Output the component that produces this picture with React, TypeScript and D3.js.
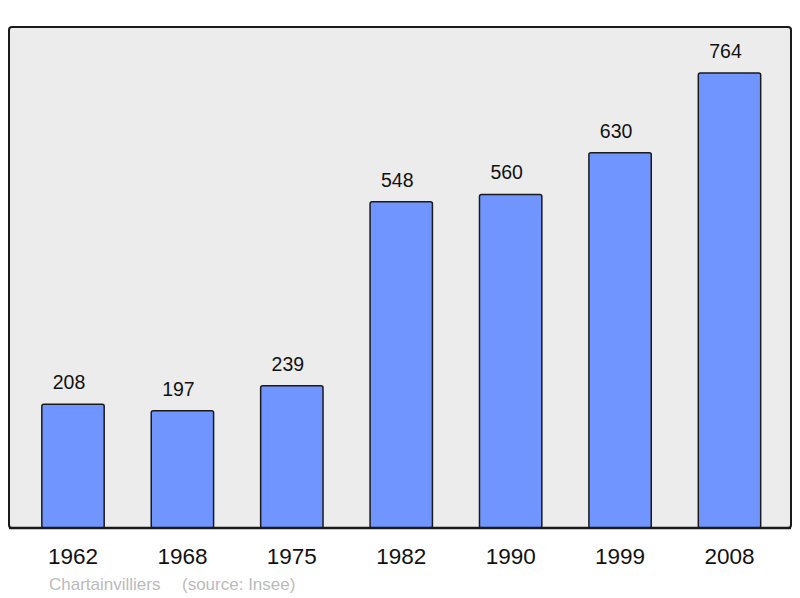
import React from 'react';
import * as d3 from 'd3';

const years = ['1962', '1968', '1975', '1982', '1990', '1999', '2008'];
const population = [208, 197, 239, 548, 560, 630, 764];
const place = 'Chartainvilliers';
const source = '(source: Insee)';

const width = 800;
const height = 598;
const panel = { left: 9, top: 27, right: 791, bottom: 528 };

export default function App() {
  const x = d3
    .scaleBand<string>()
    .domain(years)
    .range([18.3, 784.2])
    .paddingInner(0.43)
    .paddingOuter(0.215);

  const y = d3.scaleLinear().domain([0, 764]).range([panel.bottom, 73]);

  return (
    <svg
      width={width}
      height={height}
      style={{ position: 'absolute', left: 0, top: 0 }}
      fontFamily="'Liberation Sans', Arial, sans-serif"
    >
      <rect
        x={panel.left}
        y={panel.top}
        width={panel.right - panel.left}
        height={panel.bottom - panel.top}
        rx={3}
        fill="#ececec"
        stroke="#1a1a1a"
        strokeWidth={2}
      />
      {years.map((yr, i) => (
        <g key={yr}>
          <rect
            x={x(yr)}
            y={y(population[i])}
            width={x.bandwidth()}
            height={panel.bottom - y(population[i])}
            rx={2}
            fill="#7095ff"
            stroke="#1a1a1a"
            strokeWidth={1.5}
          />
          <text
            x={(x(yr) ?? 0) + x.bandwidth() / 2 - 4}
            y={y(population[i]) - 15}
            textAnchor="middle"
            fontSize={19.5}
            fill="#111"
          >
            {population[i]}
          </text>
          <text
            x={(x(yr) ?? 0) + x.bandwidth() / 2}
            y={564}
            textAnchor="middle"
            fontSize={22.5}
            fill="#111"
          >
            {yr}
          </text>
        </g>
      ))}
      <line
        x1={panel.left}
        x2={panel.right}
        y1={panel.bottom}
        y2={panel.bottom}
        stroke="#1a1a1a"
        strokeWidth={2.5}
      />
      <text x={49} y={590} fontSize={17} fill="#bbbbbb">
        {place}
      </text>
      <text x={182} y={590} fontSize={17} fill="#bbbbbb">
        {source}
      </text>
    </svg>
  );
}
